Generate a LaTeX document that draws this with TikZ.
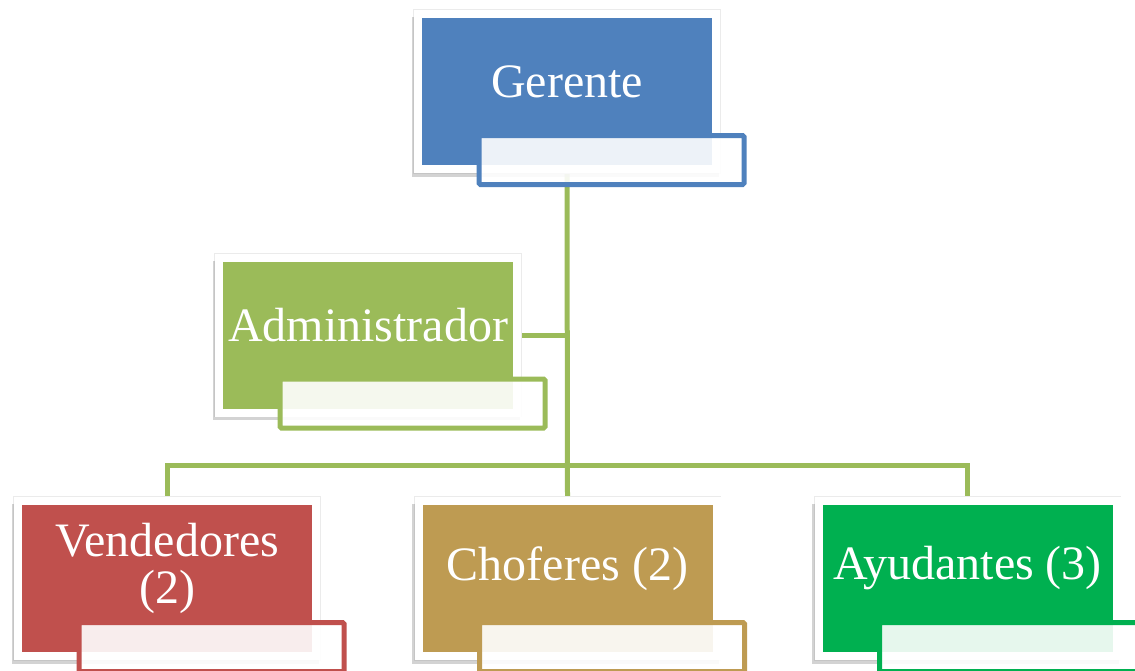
\documentclass[tikz,border=0pt]{standalone}
\usepackage{fontspec}
\setmainfont{Liberation Serif}
\usepackage{tikz}
\usetikzlibrary{%
	positioning,%
	shadows,%
	backgrounds,%
	calc
}
\definecolor{gerblue}{HTML}{4F81BD}
\definecolor{admgreen}{HTML}{9BBB59}
\definecolor{venred}{HTML}{C0504D}
\definecolor{chotan}{HTML}{BE9B52}
\definecolor{ayugreen}{HTML}{00B050}
\tikzstyle{unit}=[rectangle, minimum width=223.5pt, minimum height=116.25pt, draw=white, line width=6pt, preaction={draw=black!8, line width=7pt}, drop shadow={shadow scale=1.03, shadow xshift=-1.2pt, shadow yshift=-4pt, fill=black!50, opacity=.35}]
\tikzstyle{title}=[text=white, font=\fontsize{36}{35}\selectfont, align=center, inner sep=0pt]
\tikzstyle{tag}=[rectangle, minimum width=198.75pt, minimum height=36.75pt, line width=3.75pt, fill=white, fill opacity=0.9, rounded corners=1pt]
\tikzstyle{link}=[draw=admgreen, line width=3.75pt]

\begin{document}
\begin{tikzpicture}[x=0.75pt, y=-0.75pt]
	\path[use as bounding box] (0,0) rectangle (1135,671);
	\clip (0,0) rectangle (1135,671);
	
	% Boxes with their titles and name tags
	\foreach \px/\py/\name/\col/\txt in {%
		567/91.5/ger/gerblue/Gerente,
		368/335/adm/admgreen/Administrador,
		167/578.5/ven/venred/{Vendedores\\(2)},
		567.5/578.5/cho/chotan/Choferes (2),
		967.5/578.5/ayu/ayugreen/Ayudantes (3)%
	}{
		\node[unit, fill=\col] (\name) at (\px,\py) {};
		\node[title] (\name-t) at ([shift={(0,-10)}]\name.center) {\txt};
		\node[tag, draw=\col] (\name-l) at ([shift={(44.5,68.5)}]\name.center) {};
	}
	
	% Connect the boxes
	\coordinate (bus) at (567,465);
	\begin{scope}[on background layer]
		\path[link] (ger.south) -- (cho.north);
		\path[link] (adm.east) -- (adm.east -| ger.south);
		\path[link] (ven.north) |- (bus) -| (ayu.north);
	\end{scope}
	
\end{tikzpicture}
\end{document}
